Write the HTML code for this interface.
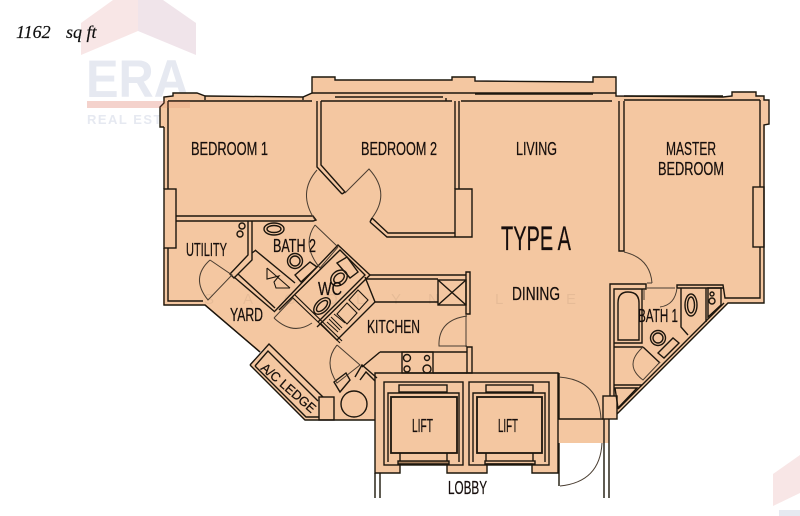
<!DOCTYPE html>
<html><head><meta charset="utf-8"><style>
html,body{margin:0;padding:0;background:#fff}
svg{display:block}
text{font-family:"Liberation Sans",sans-serif;fill:#17110b}
.l text{stroke:#17110b;stroke-width:.25}
</style></head><body>
<svg width="800" height="516" viewBox="0 0 800 516" xmlns="http://www.w3.org/2000/svg">
<defs><filter id="b" x="-2%" y="-2%" width="104%" height="104%"><feGaussianBlur stdDeviation="0.35"/></filter></defs>
<!-- watermark -->
<polygon points="81,23 113,0 138,0 138,31 81,55" fill="#f8e6e6"/>
<polygon points="138,0 163,0 196,23 196,55 138,31" fill="#f0e4ea"/>
<text x="86" y="97" font-size="53" font-weight="700" style="fill:#e6e9f1" textLength="103" lengthAdjust="spacingAndGlyphs">ERA</text>
<rect x="87" y="101" width="103" height="7" fill="#f9e4e2"/>
<text x="87" y="124" font-size="13" font-weight="700" style="fill:#e6e9f1" textLength="103">REAL ESTATE</text>
<polygon points="773,474 800,455 800,493 773,506" fill="#f8e6e6"/>
<rect x="779" y="510" width="21" height="6" fill="#e6e9f1"/>
<text x="16" y="38" font-size="18" font-style="italic" style="font-family:'Liberation Serif',serif;fill:#111;stroke:#111;stroke-width:.2">1162</text>
<text x="66" y="38" font-size="18" font-style="italic" style="font-family:'Liberation Serif',serif;fill:#111;stroke:#111;stroke-width:.2">sq ft</text>
<g filter="url(#b)">
<!-- floor fill -->
<path d="M205,96 L303,97 L312,93 L312,77 L335,77 L335,80 L452,80 L452,77 L475,77 L475,81 L593,82 L593,77 L616,77 L616,96 L723,97 L732,96 L732,92 L756,92 L756,96 L764,96 L764,100 L769,100 L769,124 L765,125 L764,303 L728,303 L617,414 L617,419 L609,419 L609,443 L558,443 L558,473 L532,473 L532,464 L487,464 L487,473 L447,473 L447,464 L400,464 L400,473 L375,473 L375,420 L305,420 L250,365 L269,344 L260,352 L205,305 L163,305 L164,127 L160,127 L160,107 L164,103 L163,97 L173,96 L173,93 L197,93 L205,96 Z" fill="#f4c7a1" stroke="none"/>
<g fill="none" stroke="#1b140d" stroke-width="1.4" stroke-linejoin="miter">
<!-- outer -->
<path d="M205,96 L303,97 L312,93 L312,77 L335,77 L335,80 L452,80 L452,77 L475,77 L475,81 L593,82 L593,77 L616,77 L616,96 L723,97 L732,96 L732,92 L756,92 L756,96 L764,96 L764,100 L769,100 L769,124 L764,125 L764,303 L728,303 L617,414"/>
<path d="M164,127 L160,127 L160,107 L164,103 L164,97 L173,96 L173,93 L197,93 L205,96 L205,100"/>
<path d="M164,127 L164,189 M164,248 L164,305 L205,305 L260,352"/>
<path d="M168,101 L168,189 M168,248 L168,301 L203,301"/>
<path d="M168,101 L312,101 M303,97 L303,100 M321,101 L452,101 M446,98 L446,101 M461,101 L612,101 M335,93 L593,93 M335,97 L443,97 M475,94 L593,94 M312,93 L335,93 M452,93 L475,93 M593,93 L616,93 M624,100 L760,100 M624,96 L723,96"/>
<!-- left window -->
<rect x="164" y="189" width="12" height="59"/>
<!-- bedroom walls -->
<path d="M317,101 L317,167 L342,194 M321,101 L321,165 L345,192 L342,194"/>
<path d="M176,216 L313,216 L316,220 L313,221 L176,221"/>
<path d="M248,221 L248,255 L230,274 L234,278 L252,260 L252,221"/>
<path d="M372,218 L388,233 L455,233 M370,222 L387,237 L455,237 L472,237 L472,189 L455,189 L455,237 M372,218 L370,222"/>
<path d="M455,101 L455,189 M459,101 L459,189"/>
<path d="M619,101 L619,251 L624,251 L624,101"/>
<rect x="753" y="187" width="11" height="60"/>
<path d="M760,100 L760,187 M760,247 L760,298 L725,298 L723,285 L677,285 L677,288 L723,288"/>
<!-- shower diamond -->
<path d="M234,277 L275,312 M238,274 L275,308 M255,250 L295,283"/>
<path d="M252,253 L256,250"/>
<path d="M267,268 L267,279 L279,276 L274,282 L276,288 L290,288 M267,268 L290,288" stroke-width="1.1"/>
<!-- WC -->
<path d="M275,311 L338,245 L370,275 L317,327 M279,310 L340,250 L365,275 L318,322"/>
<path d="M337,263 L347,257 L358,272 L350,278 Z"/>
<ellipse cx="339" cy="278" rx="9" ry="7" transform="rotate(-40 339 278)"/>
<ellipse cx="339" cy="278" rx="6" ry="4" transform="rotate(-40 339 278)"/>
<ellipse cx="322" cy="306" rx="10" ry="6" transform="rotate(-45 322 306)"/>
<ellipse cx="322" cy="306" rx="7" ry="3.5" transform="rotate(-45 322 306)"/>
<!-- bath 2 fittings -->
<ellipse cx="274" cy="229" rx="10" ry="6"/><ellipse cx="274" cy="229" rx="7" ry="3.5"/>
<circle cx="295" cy="261" r="7.5"/><circle cx="295" cy="261" r="5"/>
<path d="M295,275 L310,262 L317,267 L301,282 Z"/>
<circle cx="242" cy="226" r="3"/><circle cx="240" cy="234" r="3"/>
<!-- long wall -->
<path d="M292,297 L340,343 M295,295 L342,341" stroke-width="1.2"/>
<!-- kitchen counter -->
<path d="M370,275 L466,275 M365,279 L438,279 M375,302 L438,302"/>
<rect x="438" y="280" width="28" height="25"/><path d="M438,280 L466,305 M466,280 L438,305"/>
<path d="M466,272 L470,272 L470,314 L466,314 Z M467,347 L472,347 L472,373 L467,373 Z"/>
<path d="M365,277 L375,302 L337,340 L320,323"/>
<path d="M347,303 L357,313 L347,324 L337,314 Z M358,290 L368,300 L359,310 L349,300 Z" stroke-width="1.1"/>
<path d="M327,322 L338,332 M329,319 L340,330 M331,317 L342,328 M334,314 L345,323" stroke-width="1"/>
<path d="M380,352 L467,352 M380,352 L362,367"/>
<rect x="402" y="352" width="31" height="21"/>
<circle cx="407" cy="358" r="3.5"/><circle cx="427" cy="358" r="2.5"/><circle cx="407" cy="369" r="3"/><circle cx="427" cy="369" r="4"/>
<path d="M433,373 L467,373"/>
<!-- A/C ledge -->
<path d="M205,305 L260,352 M250,365 L269,344 L323,397 M250,365 L305,420 L375,420"/>
<path d="M255,366 L268,351 L318,401 M255,366 L306,417 L319,417"/>
<rect x="319" y="397" width="15" height="23"/>
<path d="M334,382 L346,373 L350,380 L340,392 Z M355,377 L362,365 L377,378 M360,380 L366,372 L375,381"/>
<circle cx="354" cy="404" r="13"/>
<!-- lift block -->
<path d="M375,373 L558,373 L558,473 L532,473 L532,464 L487,464 L487,473 L447,473 L447,464 L400,464 L400,473 L375,473 Z"/>
<path d="M375,473 L375,498 M380,473 L380,498"/>
<path d="M604,419 L604,498 M609,419 L609,498"/>
<rect x="384" y="382" width="79" height="83"/><rect x="469" y="382" width="80" height="83"/>
<path d="M388,462 L388,393 L459,393 L459,462 M473,462 L473,393 L545,393 L545,462"/>
<rect x="391" y="397" width="66" height="56" stroke-width="1.8"/><rect x="477" y="397" width="65" height="56" stroke-width="1.8"/>
<rect x="399" y="385" width="48" height="7"/><rect x="486" y="385" width="47" height="7"/>
<path d="M400,453 L400,461 M447,453 L447,461 M486,453 L486,461 M533,453 L533,461"/>
<rect x="398" y="461" width="51" height="3" fill="#a77f5d"/><rect x="485" y="461" width="50" height="3"/>
<path d="M559,373 L559,419 L603,419 M559,443 L559,486"/>
<!-- bath 1 -->
<path d="M610,396 L610,284 L646,284 L646,289 L614,289 L614,396"/>
<path d="M614,347 L643,347 M642,289 L642,343 L614,343"/>
<path d="M618,340 L618,303 Q618,292 628,292 Q639,292 639,303 L639,340 Z"/>
<path d="M614,385 L642,385 M643,347 L660,363"/>
<path d="M615,388 L637,388 L618,408 Z"/>
<rect x="603" y="396" width="14" height="23"/>
<path d="M618,409 L724,303"/>
<path d="M681,288 L681,327 L688,335 M706,288 L706,322"/>
<ellipse cx="691" cy="305" rx="6" ry="11"/><ellipse cx="691" cy="305" rx="3.5" ry="8"/>
<path d="M708,288 L708,317 L721,305 L721,288 Z"/>
<circle cx="712" cy="294" r="2"/><circle cx="712" cy="301" r="3"/>
<circle cx="658" cy="338" r="7.5"/><circle cx="658" cy="338" r="5"/>
<path d="M658,353 L673,338 L679,343 L664,358 Z"/>
</g>
<!-- door arcs -->
<g fill="none" stroke="#4a3d30" stroke-width="1">
<path d="M317,170 Q297,193 315,220"/>
<path d="M345,193 L369,169 Q391,193 372,218"/>
<path d="M315,225 L338,247 M315,225 Q301,245 320,268 L338,247"/>
<path d="M210,260 Q190,278 208,300 L232,275 L210,260"/>
<path d="M274,318 Q293,336 312,323 M274,318 L293,298"/>
<path d="M337,345 Q323,362 337,383 L360,365 L337,345"/>
<path d="M467,316 Q438,320 439,346 L467,346 M466,314 L466,347"/>
<path d="M559,377 Q599,380 601,419"/>
<path d="M560,486 Q600,482 602,443"/>
<path d="M624,252 Q650,258 652,283 M652,283 L647,283 M647,288 L675,288"/>
<path d="M677,288 Q675,305 660,307 M644,288 L644,300"/>
<path d="M643,347 Q623,365 643,380 L660,362"/>
</g>
<rect x="87" y="101" width="103" height="7" fill="#d9775a" opacity="0.16"/>
<!-- labels -->
<g class="l">
<text x="191" y="155" font-size="18" textLength="77" lengthAdjust="spacingAndGlyphs">BEDROOM 1</text>
<text x="361" y="155" font-size="18" textLength="76" lengthAdjust="spacingAndGlyphs">BEDROOM 2</text>
<text x="516" y="155" font-size="18" textLength="41" lengthAdjust="spacingAndGlyphs">LIVING</text>
<text x="666" y="155" font-size="18" textLength="50" lengthAdjust="spacingAndGlyphs">MASTER</text>
<text x="658" y="175" font-size="18" textLength="66" lengthAdjust="spacingAndGlyphs">BEDROOM</text>
<text x="501" y="250" font-size="34" textLength="70" lengthAdjust="spacingAndGlyphs">TYPE A</text>
<text x="512" y="300" font-size="18" textLength="48" lengthAdjust="spacingAndGlyphs">DINING</text>
<text x="638" y="322" font-size="18" textLength="40" lengthAdjust="spacingAndGlyphs">BATH 1</text>
<text x="367" y="333" font-size="18" textLength="53" lengthAdjust="spacingAndGlyphs">KITCHEN</text>
<text x="412" y="432" font-size="18" textLength="21" lengthAdjust="spacingAndGlyphs">LIFT</text>
<text x="498" y="432" font-size="18" textLength="20" lengthAdjust="spacingAndGlyphs">LIFT</text>
<text x="448" y="494" font-size="18" textLength="39" lengthAdjust="spacingAndGlyphs">LOBBY</text>
<text x="186" y="256" font-size="18" textLength="41" lengthAdjust="spacingAndGlyphs">UTILITY</text>
<text x="273" y="252" font-size="18" textLength="43" lengthAdjust="spacingAndGlyphs">BATH 2</text>
<text x="318" y="295" font-size="18" textLength="24" lengthAdjust="spacingAndGlyphs">WC</text>
<text x="230" y="321" font-size="18" textLength="33" lengthAdjust="spacingAndGlyphs">YARD</text>
<text transform="translate(260,369) rotate(41)" font-size="13" textLength="68" lengthAdjust="spacingAndGlyphs">A/C  LEDGE</text>
</g>
</g>
<g font-size="15" opacity="0.06">
<text x="204" y="304">S</text><text x="243" y="304">A</text><text x="284" y="304">G</text><text x="326" y="304">O</text><text x="356" y="304">L</text><text x="391" y="304">Y</text><text x="428" y="304">N</text><text x="495" y="304">L</text><text x="566" y="304">E</text>
</g>
</svg>
</body></html>
